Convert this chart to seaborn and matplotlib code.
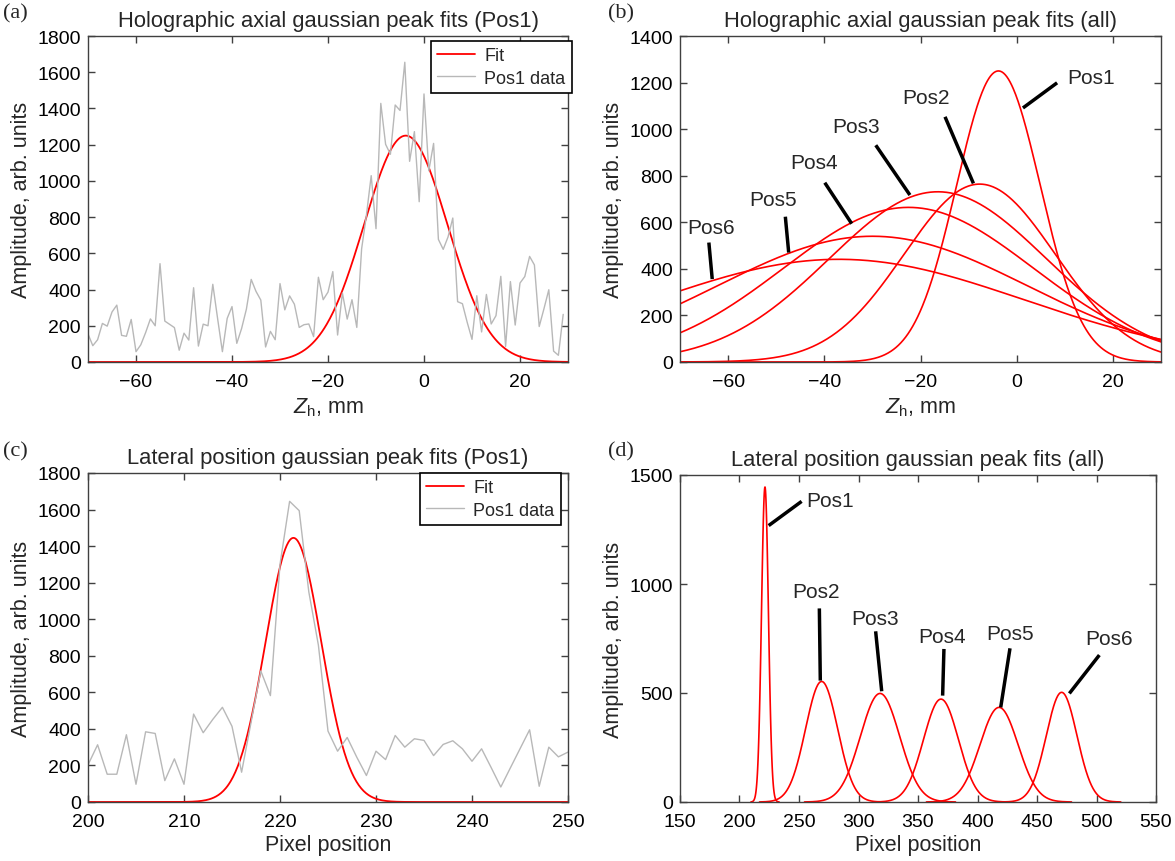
import numpy as np
import pandas as pd
import matplotlib
matplotlib.use("Agg")
import matplotlib.pyplot as plt
import seaborn as sns

sns.set_theme(style="white")
plt.rcParams['font.family'] = ['Liberation Sans', 'DejaVu Sans']
plt.rcParams['mathtext.fontset'] = 'custom'
plt.rcParams['mathtext.rm'] = 'Liberation Sans'
plt.rcParams['mathtext.it'] = 'Liberation Sans:italic'

# ---------------- data ----------------
axial_z = list(range(-70, 30))  # mm
axial_pos1 = [155, 90, 123, 213, 198, 276, 314, 147, 142, 235,
              57, 95, 162, 238, 200, 543, 226, 208, 190, 65,
              159, 121, 410, 88, 209, 200, 429, 240, 57, 241,
              306, 103, 185, 292, 456, 390, 342, 83, 169, 123,
              433, 288, 365, 319, 191, 206, 210, 140, 468, 344,
              386, 499, 149, 381, 237, 344, 191, 624, 810, 1029,
              736, 1428, 1202, 1147, 1419, 1389, 1655, 1108, 1272, 885,
              1480, 1056, 1207, 677, 622, 690, 795, 333, 322, 219,
              125, 366, 166, 373, 210, 256, 473, 86, 444, 204,
              436, 472, 583, 536, 196, 295, 399, 60, 37, 263]

lateral_px = list(range(200, 251))
lateral_pos1 = [203, 313, 152, 152, 368, 97, 384, 375, 117, 236,
                97, 481, 379, 452, 518, 414, 163, 440, 717, 582,
                1300, 1645, 1594, 1150, 858, 388, 278, 353, 245, 145,
                278, 232, 364, 300, 346, 337, 254, 315, 335, 291,
                223, 291, 188, 82, 187, 291, 395, 86, 300, 247, 273]

pos_labels = ['Pos1', 'Pos2', 'Pos3', 'Pos4', 'Pos5', 'Pos6']
# axial gaussian fit parameters (amplitude, centre [mm], sigma [mm])
axial_amp = [1250, 764, 731, 664, 540, 441]
axial_center = [-3.8, -7.7, -16.4, -22.5, -30.0, -37.0]
axial_sigma = [8.7, 15.7, 22.6, 26.0, 32.2, 38.5]
# lateral gaussian fit parameters (amplitude, centre [px], sigma [px])
lat_amp = [1445, 553, 498, 472, 434, 503]
lat_center = [221.4, 269.0, 318.1, 369.3, 418.1, 470.7]
lat_sigma = [2.9, 13.5, 16.5, 14.7, 16.0, 12.9]

# label annotations: (text x, text y, line x0, y0, x1, y1)
axial_notes = [(15.5, 1220, 8.4, 1199, 1.3, 1091),
               (-18.9, 1134, -14.9, 1053, -9.0, 767),
               (-33.5, 1013, -29.3, 931, -22.2, 717),
               (-42.2, 856, -39.9, 770, -34.3, 594),
               (-50.6, 696, -48.1, 624, -47.4, 470),
               (-63.5, 577, -64.0, 513, -63.3, 356)]
lat_notes = [(276, 1382, 252.2, 1379, 224.5, 1268),
             (264, 966, 267.1, 888, 267.9, 557),
             (313.9, 844, 314.4, 783, 319.5, 508),
             (370.2, 760, 371.8, 702, 370.7, 488),
             (427.3, 775, 427.3, 705, 419.5, 434),
             (510.8, 748, 502.4, 674, 477.2, 498)]


def gauss(x, a, c, s):
    return a * np.exp(-(x - c) ** 2 / (2 * s ** 2))


RED = '#ff0000'
GREY = '#b8b8b8'
TICK_FS = 14
NOTE_FS = 15
LAB_FS = 15.5
TITLE_FS = 15.8
LEG_FS = 13

W, H = 1175, 862
fig = plt.figure(figsize=(W / 100, H / 100), dpi=100)


def add_ax(l, t, r, b):
    return fig.add_axes([l / W, 1 - b / H, (r - l) / W, (b - t) / H])


axA = add_ax(88, 37, 568, 363)
axB = add_ax(680, 37, 1161, 363)
axC = add_ax(88, 474, 568, 803)
axD = add_ax(680, 476, 1156, 803)


def style(ax):
    for sp in ax.spines.values():
        sp.set_color('#404040')
        sp.set_linewidth(1.0)
        sp.set_visible(True)
    ax.tick_params(direction='in', top=True, right=True, bottom=True, left=True,
                   length=5, width=1, color='#404040', labelsize=TICK_FS,
                   labelcolor='black')
    ax.tick_params(axis='x', pad=8)
    ax.tick_params(axis='y', pad=5)
    ax.grid(False)


# ---- (a) ----
dfa = pd.DataFrame({'z': axial_z, 'amp': axial_pos1})
zf = np.linspace(-70, 30, 600)
dfa_fit = pd.DataFrame({'z': zf, 'amp': gauss(zf, axial_amp[0], axial_center[0], axial_sigma[0])})
sns.lineplot(data=dfa_fit, x='z', y='amp', ax=axA, color=RED, lw=1.3, label='Fit')
sns.lineplot(data=dfa, x='z', y='amp', ax=axA, color=GREY, lw=1.0, label='Pos1 data')
axA.set_xlim(-70, 30)
axA.set_ylim(0, 1800)
axA.set_xticks(range(-60, 21, 20))
axA.set_yticks(range(0, 1801, 200))
axA.set_title('Holographic axial gaussian peak fits (Pos1)', fontsize=TITLE_FS, pad=7)
axA.set_xlabel(r'$Z_\mathrm{h}$, mm', fontsize=LAB_FS, labelpad=4)
axA.set_ylabel('Amplitude, arb. units', fontsize=LAB_FS)

# ---- (b) ----
rows = []
for lab, a, c, s in zip(pos_labels, axial_amp, axial_center, axial_sigma):
    rows.append(pd.DataFrame({'z': zf, 'amp': gauss(zf, a, c, s), 'pos': lab}))
dfb = pd.concat(rows, ignore_index=True)
sns.lineplot(data=dfb, x='z', y='amp', units='pos', estimator=None, ax=axB,
             color=RED, lw=1.2, legend=False)
for lab, (tx, ty, x0, y0, x1, y1) in zip(pos_labels, axial_notes):
    axB.plot([x0, x1], [y0, y1], color='black', lw=2.5, solid_capstyle='butt')
    axB.text(tx, ty, lab, fontsize=NOTE_FS, ha='center', va='center')
axB.set_xlim(-70, 30)
axB.set_ylim(0, 1400)
axB.set_xticks(range(-60, 21, 20))
axB.set_yticks(range(0, 1401, 200))
axB.set_title('Holographic axial gaussian peak fits (all)', fontsize=TITLE_FS, pad=7)
axB.set_xlabel(r'$Z_\mathrm{h}$, mm', fontsize=LAB_FS, labelpad=4)
axB.set_ylabel('Amplitude, arb. units', fontsize=LAB_FS)

# ---- (c) ----
dfc = pd.DataFrame({'px': lateral_px, 'amp': lateral_pos1})
pf = np.linspace(200, 250, 600)
dfc_fit = pd.DataFrame({'px': pf, 'amp': gauss(pf, lat_amp[0], lat_center[0], lat_sigma[0])})
sns.lineplot(data=dfc_fit, x='px', y='amp', ax=axC, color=RED, lw=1.3, label='Fit')
sns.lineplot(data=dfc, x='px', y='amp', ax=axC, color=GREY, lw=1.0, label='Pos1 data')
axC.set_xlim(200, 250)
axC.set_ylim(0, 1800)
axC.set_xticks(range(200, 251, 10))
axC.set_yticks(range(0, 1801, 200))
axC.set_title('Lateral position gaussian peak fits (Pos1)', fontsize=TITLE_FS, pad=7)
axC.set_xlabel('Pixel position', fontsize=LAB_FS, labelpad=3)
axC.set_ylabel('Amplitude, arb. units', fontsize=LAB_FS)

# ---- (d) ----
pd_grid = np.linspace(150, 550, 2000)
rows = []
for lab, a, c, s in zip(pos_labels, lat_amp, lat_center, lat_sigma):
    rows.append(pd.DataFrame({'px': pd_grid, 'amp': gauss(pd_grid, a, c, s), 'pos': lab}))
dfd = pd.concat(rows, ignore_index=True)
dfd = dfd[dfd['amp'] > 0.3]
sns.lineplot(data=dfd, x='px', y='amp', units='pos', estimator=None, ax=axD,
             color=RED, lw=1.2, legend=False)
for lab, (tx, ty, x0, y0, x1, y1) in zip(pos_labels, lat_notes):
    axD.plot([x0, x1], [y0, y1], color='black', lw=2.5, solid_capstyle='butt')
    axD.text(tx, ty, lab, fontsize=NOTE_FS, ha='center', va='center')
axD.set_xlim(150, 550)
axD.set_ylim(0, 1500)
axD.set_xticks(range(150, 551, 50))
axD.set_yticks(range(0, 1501, 500))
axD.set_title('Lateral position gaussian peak fits (all)', fontsize=TITLE_FS, pad=7)
axD.set_xlabel('Pixel position', fontsize=LAB_FS, labelpad=3)
axD.set_ylabel('Amplitude, arb. units', fontsize=LAB_FS)

for ax in (axA, axB, axC, axD):
    style(ax)

for ax, anchor in ((axA, (1.008, 0.985)), (axC, (0.985, 1.0))):
    leg = ax.legend(loc='upper right', bbox_to_anchor=anchor, frameon=True,
                    fancybox=False, edgecolor='black', framealpha=1,
                    fontsize=LEG_FS, handlelength=2.1, borderpad=0.35,
                    labelspacing=0.3, handletextpad=0.5, borderaxespad=0)
    leg.get_frame().set_linewidth(1.2)

for txt, x, y in (('(a)', 3, 14), ('(b)', 608, 14), ('(c)', 3, 452), ('(d)', 608, 452)):
    fig.text(x / W, 1 - y / H, txt, family='Liberation Serif', fontsize=16,
             ha='left', va='center')

fig.savefig('out.png', dpi=100)
